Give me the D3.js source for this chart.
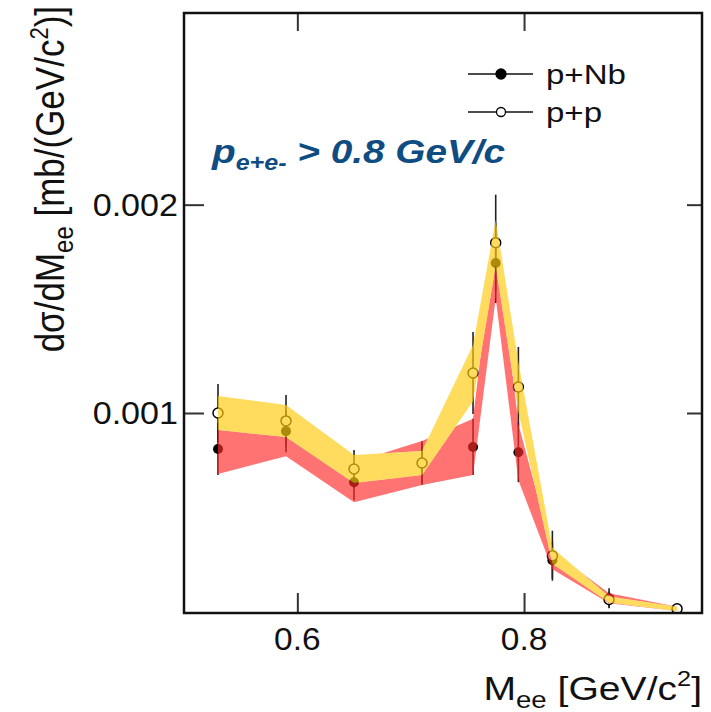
<!DOCTYPE html>
<html>
<head>
<meta charset="utf-8">
<script src="https://cdn.jsdelivr.net/npm/d3@7"></script>
<style>
body { margin: 0; background: #fff; }
text { font-family: "Liberation Sans", Arial, sans-serif; }
</style>
</head>
<body>
<div id="chart"></div>
<script>
// dilepton invariant mass bins (GeV/c^2)
var mee = [0.53, 0.59, 0.65, 0.71, 0.755, 0.775, 0.795, 0.825, 0.875, 0.935];

// p+Nb : value, stat error, systematic band
var pNb     = [0.000827, 0.000913, 0.000668, 0.000760, 0.000837, 0.001720, 0.000812, 0.000293, 0.000111, 0.000060];
var pNbStat = [0.000125, 0.000101, 0.000087, 0.000106, 0.000135, 0.000192, 0.000144, 0.000087, 0.000048, 0.000014];
var pNbSys  = [0.000120, 0.000120, 0.000096, 0.000106, 0.000135, 0.000168, 0.000135, 0.000043, 0.000024, 0.000010];

// p+p
var pp      = [0.001000, 0.000962, 0.000731, 0.000760, 0.001192, 0.001817, 0.001125, 0.000315, 0.000105, 0.000060];
var ppStat  = [0.000139, 0.000125, 0.000091, 0.000096, 0.000197, 0.000231, 0.000192, 0.000120, 0.000038, 0.000014];
var ppSys   = [0.000082, 0.000077, 0.000067, 0.000058, 0.000135, 0.000110, 0.000120, 0.000038, 0.000014, 0.000010];

var xTicks = [0.6, 0.8];
var yTicks = [0.001, 0.002];
var xTickLabels = ["0.6", "0.8"];
var yTickLabels = ["0.001", "0.002"];

var W = 711, H = 712;
var X0 = 184, X1 = 702, Y0 = 13, Y1 = 613;

var svg = d3.select("#chart").append("svg")
	.attr("width", W)
	.attr("height", H);

var x = d3.scaleLinear().domain([0.5, 0.957]).range([X0, X1]);
var y = d3.scaleLinear().domain([0.00004, 0.00292]).range([Y1, Y0]);

function points(vals, stat, sys) {
	return mee.map(function(m, i) {
		return { x: m, v: vals[i], s: stat[i], e: sys[i] };
	});
}
var nbPts = points(pNb, pNbStat, pNbSys);
var ppPts = points(pp, ppStat, ppSys);

var band = d3.area()
	.x(function(d) { return x(d.x); })
	.y0(function(d) { return y(d.v - d.e); })
	.y1(function(d) { return y(d.v + d.e); });

var defs = svg.append("defs");
defs.append("clipPath").attr("id", "plot")
	.append("rect")
	.attr("x", X0).attr("y", Y0)
	.attr("width", X1 - X0).attr("height", Y1 - Y0);

// the yellow band hides the red one where they overlap
var mask = defs.append("mask").attr("id", "noYellow");
mask.append("rect").attr("width", W).attr("height", H).attr("fill", "#fff");
mask.append("path").attr("d", band(ppPts)).attr("fill", "#000");

var plot = svg.append("g").attr("clip-path", "url(#plot)");

// error bars
[nbPts, ppPts].forEach(function(pts) {
	plot.selectAll(null).data(pts).enter().append("line")
		.attr("x1", function(d) { return x(d.x); })
		.attr("x2", function(d) { return x(d.x); })
		.attr("y1", function(d) { return y(d.v - d.s); })
		.attr("y2", function(d) { return y(d.v + d.s); })
		.attr("stroke", "#222")
		.attr("stroke-width", 1.6);
});

// markers
plot.selectAll(".nb").data(nbPts).enter().append("circle")
	.attr("class", "nb")
	.attr("cx", function(d) { return x(d.x); })
	.attr("cy", function(d) { return y(d.v); })
	.attr("r", 5)
	.attr("fill", "#000");

plot.selectAll(".pp").data(ppPts).enter().append("circle")
	.attr("class", "pp")
	.attr("cx", function(d) { return x(d.x); })
	.attr("cy", function(d) { return y(d.v); })
	.attr("r", 5)
	.attr("fill", "#fff")
	.attr("stroke", "#000")
	.attr("stroke-width", 1.5);

// systematic bands, drawn over the points like the original
plot.append("path")
	.attr("d", band(nbPts))
	.attr("mask", "url(#noYellow)")
	.attr("fill", "#ff2a2a")
	.attr("fill-opacity", 0.66);

plot.append("path")
	.attr("d", band(ppPts))
	.attr("fill", "#ffcc10")
	.attr("fill-opacity", 0.68);

// frame + ticks
svg.append("g").attr("transform", "translate(0," + Y1 + ")")
	.call(d3.axisBottom(x).tickValues(xTicks).tickSize(-20).tickFormat(""));
svg.append("g").attr("transform", "translate(0," + Y0 + ")")
	.call(d3.axisTop(x).tickValues(xTicks).tickSize(-18).tickFormat(""));
svg.append("g").attr("transform", "translate(" + X0 + ",0)")
	.call(d3.axisLeft(y).tickValues(yTicks).tickSize(-20).tickFormat(""));
svg.append("g").attr("transform", "translate(" + X1 + ",0)")
	.call(d3.axisRight(y).tickValues(yTicks).tickSize(-15).tickFormat(""));
svg.selectAll(".domain").remove();
svg.selectAll(".tick line").attr("stroke", "#333").attr("stroke-width", 2);

svg.append("rect")
	.attr("x", X0).attr("y", Y0)
	.attr("width", X1 - X0).attr("height", Y1 - Y0)
	.attr("fill", "none")
	.attr("stroke", "#111")
	.attr("stroke-width", 2.5);

// tick labels
xTicks.forEach(function(t, i) {
	svg.append("text")
		.attr("transform", "translate(" + x(t) + ",650) scale(1.08,1)")
		.attr("text-anchor", "middle")
		.attr("font-size", 31)
		.attr("fill", "#111")
		.text(xTickLabels[i]);
});
yTicks.forEach(function(t, i) {
	svg.append("text")
		.attr("transform", "translate(178," + (y(t) + 11) + ") scale(1.1,1)")
		.attr("text-anchor", "end")
		.attr("font-size", 31)
		.attr("fill", "#111")
		.text(yTickLabels[i]);
});

// axis titles
var xt = svg.append("text")
	.attr("transform", "translate(702,700) scale(1.15,1)")
	.attr("text-anchor", "end")
	.attr("font-size", 34)
	.attr("fill", "#111");
xt.append("tspan").text("M");
xt.append("tspan").attr("font-size", 24).attr("dy", 8).text("ee");
xt.append("tspan").attr("dy", -8).text(" [GeV/c");
xt.append("tspan").attr("font-size", 22).attr("dy", -14).text("2");
xt.append("tspan").attr("dy", 14).text("]");

var yt = svg.append("text")
	.attr("transform", "translate(64,6) scale(1.15,1) rotate(-90)")
	.attr("text-anchor", "end")
	.attr("font-size", 35)
	.attr("fill", "#111");
yt.append("tspan").text("dσ/dM");
yt.append("tspan").attr("font-size", 24).attr("dy", 8).text("ee");
yt.append("tspan").attr("dy", -8).text(" [mb/(GeV/c");
yt.append("tspan").attr("font-size", 22).attr("dy", -14).text("2");
yt.append("tspan").attr("dy", 14).text(")]");

// annotation
var ann = svg.append("text")
	.attr("transform", "translate(212,163) scale(1.14,1)")
	.attr("font-size", 34)
	.attr("font-weight", "bold")
	.attr("font-style", "italic")
	.attr("fill", "#0f4c81");
ann.append("tspan").text("p");
ann.append("tspan").attr("font-size", 22).attr("dy", 7).text("e+e-");
ann.append("tspan").attr("dy", -7).text(" > 0.8 GeV/c");

// legend
var legend = [
	{ label: "p+Nb", y: 74, fill: "#000", r: 5 },
	{ label: "p+p", y: 112, fill: "#fff", r: 4.5 }
];
var lg = svg.selectAll(".leg").data(legend).enter().append("g").attr("class", "leg");
lg.append("line")
	.attr("x1", 468).attr("x2", 533)
	.attr("y1", function(d) { return d.y; })
	.attr("y2", function(d) { return d.y; })
	.attr("stroke", "#111").attr("stroke-width", 1.5);
lg.append("circle")
	.attr("cx", 501)
	.attr("cy", function(d) { return d.y; })
	.attr("r", function(d) { return d.r; })
	.attr("fill", function(d) { return d.fill; })
	.attr("stroke", "#000").attr("stroke-width", 1.3);
lg.append("text")
	.attr("transform", function(d) { return "translate(546," + (d.y + 10) + ") scale(1.18,1)"; })
	.attr("font-size", 28)
	.attr("fill", "#111")
	.text(function(d) { return d.label; });
</script>
</body>
</html>
